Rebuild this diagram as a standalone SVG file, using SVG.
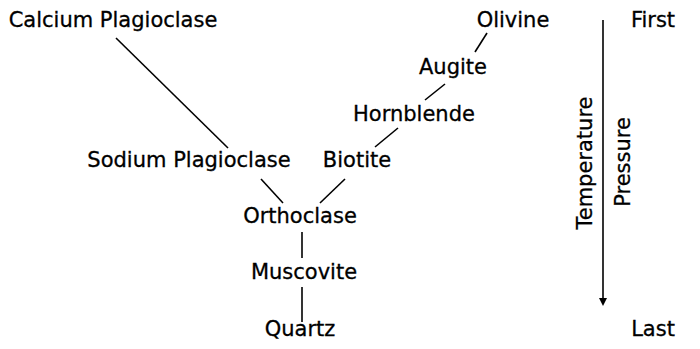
<svg xmlns="http://www.w3.org/2000/svg" width="700" height="349" viewBox="0 0 700 349">
<style>
text{font-family:"DejaVu Sans","Liberation Sans",sans-serif;font-size:21px;fill:#000;stroke:#000;stroke-width:0.3;text-anchor:middle}
.c line{stroke:#000;stroke-width:1.6;fill:none}
</style>
<defs>
<marker id="ah" markerWidth="8" markerHeight="8" refX="4" refY="4" orient="auto" markerUnits="userSpaceOnUse">
<path d="M0,0 L8,4 L0,8 Z" fill="#000"/>
</marker>
</defs>
<rect width="700" height="349" fill="#fff"/>
<g class="c" id="connectors">
<line x1="116" y1="38" x2="228" y2="148"/>
<line x1="487" y1="33" x2="475" y2="52"/>
<line x1="445" y1="84" x2="425" y2="100"/>
<line x1="398" y1="128" x2="375" y2="147"/>
<line x1="261" y1="179" x2="283" y2="203"/>
<line x1="345" y1="179" x2="320" y2="203"/>
<line x1="302" y1="232" x2="302" y2="258"/>
<line x1="302" y1="287" x2="302" y2="322"/>
<line x1="603" y1="20" x2="603" y2="302" marker-end="url(#ah)"/>
</g>
<g id="calcium"><text x="113" y="27">Calcium Plagioclase</text></g>
<g id="olivine"><text x="513" y="27">Olivine</text></g>
<g id="augite"><text x="453" y="74">Augite</text></g>
<g id="hornblende"><text x="414" y="121">Hornblende</text></g>
<g id="sodium"><text x="189" y="167">Sodium Plagioclase</text></g>
<g id="biotite"><text x="357" y="167">Biotite</text></g>
<g id="orthoclase"><text x="300" y="223">Orthoclase</text></g>
<g id="muscovite"><text x="304" y="279">Muscovite</text></g>
<g id="quartz"><text x="300" y="336">Quartz</text></g>
<g id="first"><text x="653" y="27">First</text></g>
<g id="last"><text x="653" y="336">Last</text></g>
<g id="temperature"><text transform="translate(592,163) rotate(-90)">Temperature</text></g>
<g id="pressure"><text transform="translate(630,162) rotate(-90)">Pressure</text></g>
</svg>
